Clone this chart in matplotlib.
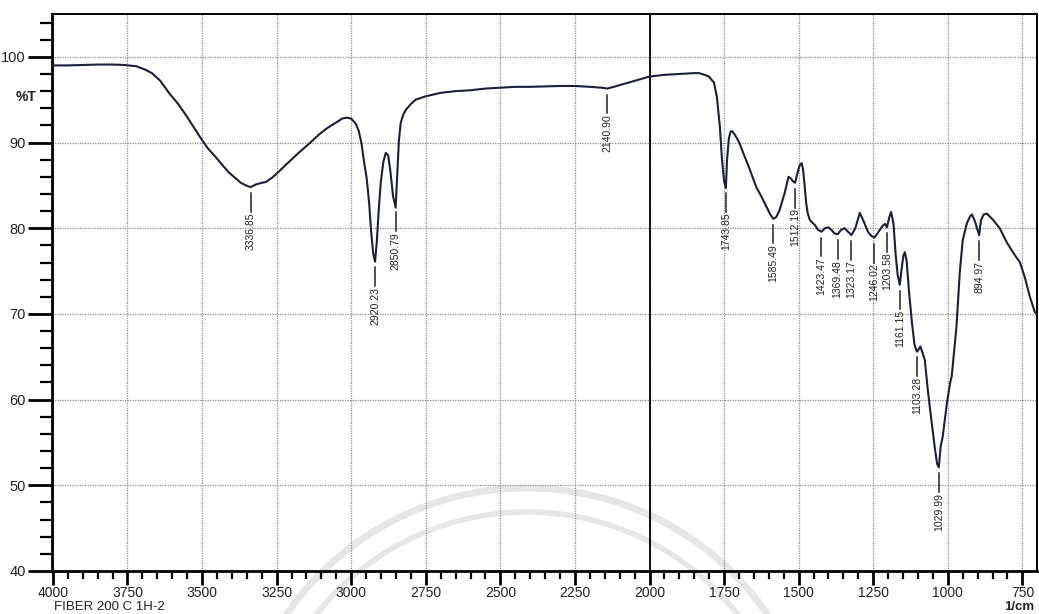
import numpy as np
import matplotlib
matplotlib.use("Agg")
import matplotlib.pyplot as plt
from matplotlib.patches import Arc

plt.rcParams['font.family'] = ['Liberation Sans', 'DejaVu Sans']

# ---- spectrum (wavenumber 1/cm, %T) ----
wavenumber = [4000, 3950, 3900, 3850, 3800, 3760, 3720, 3690, 3668, 3640, 3611, 3580,
              3554, 3530, 3504, 3480, 3454, 3430, 3410, 3390, 3370, 3350, 3337, 3320,
              3300, 3286, 3265, 3243, 3210, 3176, 3140, 3109, 3080, 3052, 3030, 3015,
              3000, 2985, 2975, 2965, 2958, 2948, 2940, 2933, 2926, 2920, 2914, 2908,
              2901, 2892, 2884, 2876, 2868, 2860, 2851, 2846, 2840, 2834, 2825, 2817,
              2800, 2784, 2750, 2700, 2650, 2600, 2550, 2500, 2450, 2400, 2350, 2300,
              2250, 2200, 2160, 2141, 2120, 2080, 2040, 2000, 1950, 1900, 1850, 1834,
              1815, 1801, 1784, 1774, 1764, 1757, 1750, 1744, 1740, 1734, 1728, 1722,
              1712, 1699, 1686, 1672, 1657, 1642, 1625, 1608, 1595, 1585, 1575, 1564,
              1547, 1534, 1526, 1520, 1512, 1505, 1497, 1490, 1485, 1480, 1475, 1470,
              1463, 1453, 1446, 1435, 1423, 1412, 1400, 1390, 1380, 1369, 1358, 1346,
              1335, 1323, 1310, 1295, 1282, 1268, 1256, 1246, 1236, 1228, 1218, 1210,
              1204, 1196, 1190, 1182, 1175, 1168, 1161, 1155, 1149, 1144, 1138, 1130,
              1120, 1112, 1106, 1103, 1097, 1092, 1085, 1077, 1067, 1054, 1044, 1036,
              1030, 1024, 1017, 1003, 992, 987, 975, 970, 960, 950, 936, 925,
              919, 909, 902, 895, 889, 880, 869, 849, 826, 803, 782, 758,
              742, 725, 708, 700]
transmittance = [99.0, 99.0, 99.05, 99.1, 99.1, 99.05, 98.9, 98.5, 98.1, 97.2, 95.8, 94.5,
                 93.2, 91.9, 90.5, 89.3, 88.3, 87.3, 86.5, 85.9, 85.3, 84.95, 84.8, 85.1,
                 85.3, 85.4, 85.9, 86.6, 87.7, 88.8, 89.9, 90.9, 91.7, 92.3, 92.8, 92.9,
                 92.8, 92.2, 91.4, 89.8, 88.0, 85.8, 83.0, 79.5, 77.0, 76.1, 78.5, 82.0,
                 85.3, 87.8, 88.8, 88.5, 86.5, 83.8, 82.4, 86.0, 90.3, 92.3, 93.3, 93.8,
                 94.5, 95.0, 95.4, 95.8, 96.0, 96.1, 96.3, 96.4, 96.5, 96.5, 96.55, 96.6,
                 96.6, 96.5, 96.4, 96.3, 96.5, 96.9, 97.3, 97.7, 97.9, 98.0, 98.1, 98.1,
                 97.9, 97.7, 97.0, 95.3, 91.8, 88.0, 85.5, 84.7, 88.0, 90.5, 91.3, 91.3,
                 90.8, 90.0, 88.8, 87.6, 86.2, 84.8, 83.7, 82.5, 81.6, 81.1, 81.3, 82.1,
                 84.1, 86.0, 85.8, 85.5, 85.3, 86.3, 87.3, 87.6, 86.8, 85.0, 83.0, 81.8,
                 81.0, 80.6, 80.4, 79.8, 79.6, 80.0, 80.1, 79.8, 79.4, 79.3, 79.8, 80.0,
                 79.6, 79.2, 80.0, 81.8, 80.8, 79.6, 79.1, 78.9, 79.4, 79.8, 80.3, 80.5,
                 80.1, 81.3, 81.9, 80.5, 77.0, 74.5, 73.4, 75.2, 76.8, 77.2, 76.2, 72.6,
                 68.9, 66.5, 65.8, 65.6, 65.9, 66.2, 65.5, 64.6, 61.1, 57.3, 54.5, 52.5,
                 52.1, 54.5, 55.7, 59.6, 62.0, 62.7, 67.0, 69.0, 74.8, 78.6, 80.6, 81.4,
                 81.6, 80.8, 80.0, 79.2, 80.9, 81.6, 81.7, 81.0, 80.0, 78.4, 77.2, 76.0,
                 74.3, 72.0, 70.2, 70.0]

peak_labels = ["3336.85", "2920.23", "2850.79", "2140.90", "1743.85", "1585.49",
               "1512.19", "1423.47", "1369.48", "1323.17", "1246.02", "1203.58",
               "1161.15", "1103.28", "1029.99", "894.97"]

x_ticks = [4000, 3750, 3500, 3250, 3000, 2750, 2500, 2250, 2000, 1750, 1500, 1250, 1000, 750]
y_ticks = [40, 50, 60, 70, 80, 90, 100]

sample_name = "FIBER 200 C 1H-2"

# ---- figure ----
W, H = 1039, 614
fig = plt.figure(figsize=(W / 100, H / 100), dpi=100)

# faint watermark layer (behind the chart)
bg = fig.add_axes([0, 0, 1, 1], zorder=0)
bg.set_xlim(0, W)
bg.set_ylim(H, 0)
bg.axis('off')
for r, lw in [(292, 5), (268, 4)]:
    bg.add_patch(Arc((527, 780), 2 * r, 2 * r, theta1=0, theta2=360,
                     color='#e6e6e6', lw=lw))

ax = fig.add_axes([52 / W, 1 - 571 / H, (1037 - 52) / W, (571 - 14) / H], zorder=1)
ax.set_facecolor('none')

trace_color = '#1b2038'
ax.plot(wavenumber, transmittance, color=trace_color, lw=1.5, zorder=3)

ax.set_xlim(4003, 701)
ax.set_ylim(40, 105)

ax.set_xticks(x_ticks)
ax.set_xticklabels([str(v) for v in x_ticks])
ax.set_xticks(np.arange(750, 4001, 50), minor=True)
ax.set_yticks(y_ticks)
ax.set_yticklabels([str(v) for v in y_ticks])
ax.set_yticks(np.arange(40, 105, 2), minor=True)

ax.grid(which='major', color='#8a8a8a', linestyle=(0, (1, 1)), lw=0.9, zorder=1)
ax.axvline(2000, color='black', lw=1.3, zorder=2)

for s in ['left', 'bottom']:
    ax.spines[s].set_linewidth(2.0)
for s in ['top', 'right']:
    ax.spines[s].set_linewidth(1.4)

ax.tick_params(axis='y', which='major', direction='out', length=17, width=2,
               labelsize=10.5, pad=2, labelcolor='#222')
ax.tick_params(axis='y', which='minor', direction='out', length=9, width=1.6)
ax.tick_params(axis='x', which='major', direction='out', length=10, width=2,
               labelsize=10, pad=1, labelcolor='#222')
ax.tick_params(axis='x', which='minor', direction='out', length=6, width=1.6)

# peak labels
wn_arr = np.array(wavenumber, dtype=float)[::-1]
t_arr = np.array(transmittance, dtype=float)[::-1]
for lab in peak_labels:
    w = float(lab)
    t = np.interp(w, wn_arr, t_arr)
    ax.plot([w, w], [t - 0.7, t - 2.9], color='#222', lw=1.1, zorder=3)
    ax.text(w, t - 3.0, lab, rotation=90, ha='center', va='top',
            fontsize=7.5, color='#222', zorder=4)

fig.text(26 / W, 1 - 97 / H, "%T", ha='center', va='center', fontsize=10,
         fontweight='bold', color='#222')
fig.text(54 / W, 1 - 607 / H, sample_name, ha='left', va='center', fontsize=9.5,
         color='#222')
fig.text(1034 / W, 1 - 607 / H, "1/cm", ha='right', va='center', fontsize=9.5,
         fontweight='bold', color='#222')

fig.savefig("out.png", dpi=100)
